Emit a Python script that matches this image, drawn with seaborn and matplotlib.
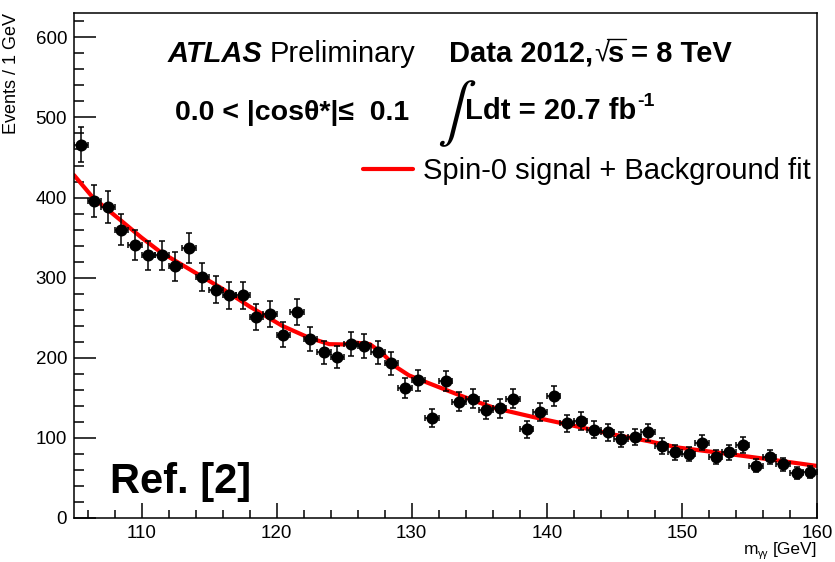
import numpy as np
import pandas as pd
import matplotlib
matplotlib.use("Agg")
import matplotlib.pyplot as plt
from matplotlib.lines import Line2D
from matplotlib.ticker import MultipleLocator
import seaborn as sns

# Diphoton invariant-mass spectrum, 1 GeV bins (bin centres)
mass = [105.5, 106.5, 107.5, 108.5, 109.5, 110.5, 111.5, 112.5, 113.5, 114.5,
        115.5, 116.5, 117.5, 118.5, 119.5, 120.5, 121.5, 122.5, 123.5, 124.5,
        125.5, 126.5, 127.5, 128.5, 129.5, 130.5, 131.5, 132.5, 133.5, 134.5,
        135.5, 136.5, 137.5, 138.5, 139.5, 140.5, 141.5, 142.5, 143.5, 144.5,
        145.5, 146.5, 147.5, 148.5, 149.5, 150.5, 151.5, 152.5, 153.5, 154.5,
        155.5, 156.5, 157.5, 158.5, 159.5]
events = [466, 396, 388, 360, 341, 328, 328, 314, 337, 301,
          285, 278, 278, 251, 255, 229, 257, 224, 207, 201,
          217, 215, 207, 193, 162, 172, 125, 171, 145, 149,
          135, 137, 149, 111, 132, 152, 118, 121, 110, 107,
          98, 101, 107, 90, 82, 80, 94, 76, 82, 91,
          65, 76, 67, 56, 57]

# Spin-0 signal + background fit curve
fit_mass = [105.0, 106.4, 108.5, 110.0, 111.4, 114.3, 116.0, 118.0, 120.4, 122.4,
            123.9, 124.9, 125.9, 126.9, 127.8, 128.8, 129.8, 131.3, 133.2, 135.0,
            136.2, 139.0, 142.3, 145.0, 147.5, 149.7, 153.6, 157.0, 160.0]
fit_events = [428, 400, 371, 350, 332, 303, 286, 264, 240, 225,
              217, 216.7, 218.8, 217, 206, 189, 178, 168, 155.5, 144,
              137, 126, 114, 104, 96, 88, 79.6, 72, 65]

x_range = (105, 160)
y_range = (0, 630)

data = pd.DataFrame({"mass": mass, "events": events})
fit = pd.DataFrame({"mass": fit_mass, "events": fit_events})

sns.set_style("ticks")
plt.rcParams["font.family"] = ["Liberation Sans", "DejaVu Sans"]
plt.rcParams["text.color"] = "black"
plt.rcParams["axes.labelcolor"] = "black"
plt.rcParams["xtick.color"] = "black"
plt.rcParams["ytick.color"] = "black"

W, H = 835, 562
fig = plt.figure(figsize=(W / 100, H / 100), dpi=100)
ax = fig.add_axes([74 / W, 1 - 518 / H, 743 / W, 504.7 / H])

sns.lineplot(data=fit, x="mass", y="events", ax=ax, color="#ff0000", lw=3.0,
             label="Spin-0 signal + Background fit", zorder=2)

ax.errorbar(data["mass"], data["events"], xerr=0.5, yerr=np.sqrt(data["events"]),
            fmt="none", ecolor="black", elinewidth=1.1, capsize=2.4, capthick=1.1,
            zorder=3)
sns.scatterplot(data=data, x="mass", y="events", ax=ax, color="black", s=75,
                edgecolor="black", linewidth=0, zorder=4, legend=False)

ax.set_xlim(*x_range)
ax.set_ylim(*y_range)
ax.xaxis.set_major_locator(MultipleLocator(10))
ax.xaxis.set_minor_locator(MultipleLocator(2))
ax.yaxis.set_major_locator(MultipleLocator(100))
ax.yaxis.set_minor_locator(MultipleLocator(20))
ax.tick_params(which="both", bottom=True, left=True, top=False, right=False)
ax.tick_params(axis="x", which="major", direction="in", length=11, width=1.1,
               labelsize=13.5, pad=5)
ax.tick_params(axis="x", which="minor", direction="in", length=6, width=1.1)
ax.tick_params(axis="y", which="major", direction="in", length=16, width=1.1,
               labelsize=13.5, pad=5)
ax.tick_params(axis="y", which="minor", direction="in", length=7.5, width=1.1)
for sp in ax.spines.values():
    sp.set_visible(True)
    sp.set_color("black")
    sp.set_linewidth(1.1)

ax.set_ylabel("Events / 1 GeV", fontsize=13, loc="top")
ax.yaxis.set_label_coords(-0.0727, 1.0)
ax.set_xlabel("")

ax.legend(loc="center left", bbox_to_anchor=((363 - 74) / 743, (518 - 171) / 504.7),
          frameon=False, fontsize=21, handlelength=1.7, handletextpad=0.35,
          borderpad=0, borderaxespad=0)

renderer = fig.canvas.get_renderer()


def ftext(x, y, s, ha="left", **kw):
    """Place text with its baseline at pixel (x, y) from the top-left."""
    return fig.text(x / W, 1 - y / H, s, va="baseline", ha=ha, **kw)


def right_of(t):
    return t.get_window_extent(renderer).x1


def left_of(t):
    return t.get_window_extent(renderer).x0


# x-axis title, right-aligned to the axis end: m_γγ [GeV]
t_unit = ftext(817, 554, "[GeV]", ha="right", fontsize=12.5)
t_sub = ftext(left_of(t_unit) - 4, 557, "\u03b3\u03b3", ha="right", fontsize=7.5)
ftext(left_of(t_sub), 554, "m", ha="right", fontsize=12.5)

# Header, first line
ftext(168, 62, "ATLAS", fontsize=21, fontweight="bold", fontstyle="italic")
ftext(270, 62, "Preliminary", fontsize=21)
t = ftext(449, 62, "Data 2012,", fontsize=21, fontweight="bold")
t_root = ftext(right_of(t) + 1, 62, "\u221a", fontsize=20)
x_s = right_of(t_root) - 1
t_s = ftext(x_s, 62, "s", fontsize=21, fontweight="bold")
fig.add_artist(Line2D([(x_s - 1) / W, (right_of(t_s) + 1) / W],
                      [1 - 39 / H, 1 - 39 / H], color="black", lw=1.0,
                      transform=fig.transFigure))
ftext(right_of(t_s) + 6, 62, "= 8 TeV", fontsize=21, fontweight="bold")

# Header, second line
ftext(175, 120, "0.0 < |cos\u03b8*|\u2264  0.1", fontsize=20.5, fontweight="bold")
fig.text(451 / W, 1 - 114 / H, "\u222b", fontsize=42, family="STIXGeneral",
         ha="center", va="center")
t = ftext(465, 119, "Ldt = 20.7 fb", fontsize=21, fontweight="bold")
ftext(right_of(t) + 1, 106, "-1", fontsize=14, fontweight="bold")

ftext(110, 493, "Ref. [2]", fontsize=30, fontweight="bold")

fig.savefig("out.png", dpi=100)
